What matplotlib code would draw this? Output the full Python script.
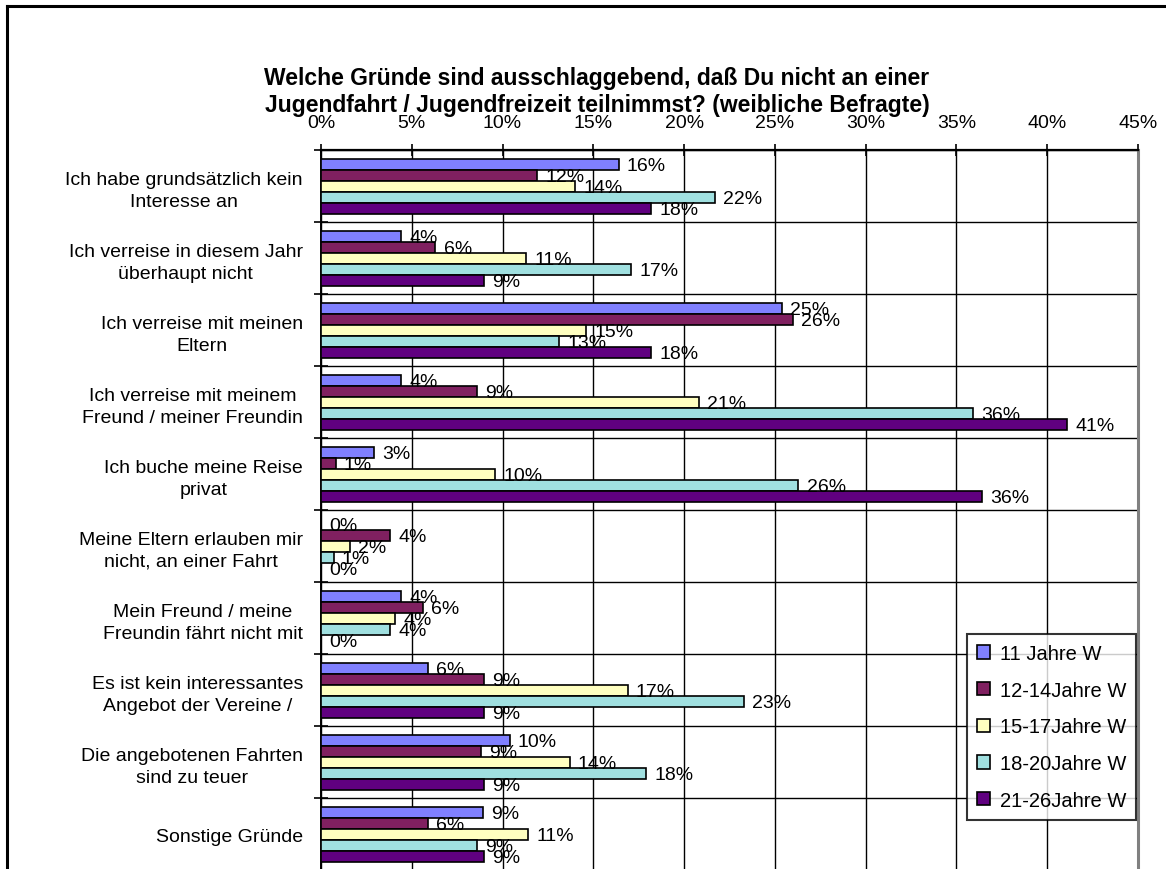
import numpy as np
import matplotlib
matplotlib.use("Agg")
import matplotlib.pyplot as plt
from matplotlib.lines import Line2D

plt.rcParams['font.family'] = ['Liberation Sans', 'DejaVu Sans']

# Gruende (Kategorien) und Anteile je Altersgruppe in %
gruende = [
    "Ich habe grundsätzlich kein\nInteresse an",
    "Ich verreise in diesem Jahr\nüberhaupt nicht",
    "Ich verreise mit meinen\nEltern",
    "Ich verreise mit meinem\nFreund / meiner Freundin",
    "Ich buche meine Reise\nprivat",
    "Meine Eltern erlauben mir\nnicht, an einer Fahrt",
    "Mein Freund / meine\nFreundin fährt nicht mit",
    "Es ist kein interessantes\nAngebot der Vereine /",
    "Die angebotenen Fahrten\nsind zu teuer",
    "Sonstige Gründe",
]
gruppen = ["11 Jahre W", "12-14Jahre W", "15-17Jahre W", "18-20Jahre W", "21-26Jahre W"]

w11 = [16.4, 4.4, 25.4, 4.4, 2.9, 0.0, 4.4, 5.9, 10.4, 8.9]
w12_14 = [11.9, 6.3, 26.0, 8.6, 0.8, 3.8, 5.6, 9.0, 8.8, 5.9]
w15_17 = [14.0, 11.3, 14.6, 20.8, 9.6, 1.6, 4.1, 16.9, 13.7, 11.4]
w18_20 = [21.7, 17.1, 13.1, 35.9, 26.3, 0.7, 3.8, 23.3, 17.9, 8.6]
w21_26 = [18.2, 9.0, 18.2, 41.1, 36.4, 0.0, 0.0, 9.0, 9.0, 9.0]

werte = [w11, w12_14, w15_17, w18_20, w21_26]
farben = ["#8080FF", "#802060", "#FFFFC0", "#A0E0E0", "#600080"]

xticks = np.arange(0, 46, 5)

fig = plt.figure(figsize=(11.66, 8.7), dpi=100)
ax = fig.add_axes([321 / 1166, -0.0012, (1138 - 321) / 1166, (871 - 151) / 870])

y = np.arange(len(gruende))
h = 0.153
for j, (serie, farbe, name) in enumerate(zip(werte, farben, gruppen)):
    pos = y + (j - 2) * h
    ax.barh(pos, serie, height=h, color=farbe, edgecolor="black",
            linewidth=1.2, label=name, zorder=3)
    for p, v in zip(pos, serie):
        ax.text(v + 0.45, p + 0.02, f"{round(v):.0f}%", va="center", ha="left",
                fontsize=14, zorder=4)

ax.set_xlim(0, 45)
ax.set_ylim(len(gruende) - 0.5, -0.5)

# x-Achse oben
ax.xaxis.tick_top()
ax.set_xticks(xticks)
ax.set_xticklabels([f"{t}%" for t in xticks], fontsize=14)
ax.tick_params(axis="x", direction="inout", length=9, width=1.2, pad=9)

# Kategorien: Trennstriche als Major-Ticks, Beschriftung als Minor-Ticks
ax.set_yticks(np.arange(-0.5, len(gruende)), minor=False)
ax.set_yticklabels([])
ax.set_yticks(y, minor=True)
ax.set_yticklabels(gruende, minor=True, fontsize=14, multialignment="center",
                   linespacing=1.35)
ax.tick_params(axis="y", which="major", direction="inout", length=10, width=1.2)
ax.tick_params(axis="y", which="minor", length=0, pad=13)

ax.grid(True, which="major", axis="both", color="black", linewidth=1.0, zorder=0)
ax.set_axisbelow(True)

ax.spines["top"].set_linewidth(1.6)
ax.spines["left"].set_linewidth(1.4)
ax.spines["right"].set_color("#808080")
ax.spines["right"].set_linewidth(2.2)
ax.spines["bottom"].set_visible(False)

leg = ax.legend(loc="upper right", bbox_to_anchor=(0.9975, 0.328), fontsize=14.5,
                frameon=True, fancybox=False, edgecolor="black",
                handlelength=0.65, handleheight=0.65, handletextpad=0.45,
                labelspacing=0.88, borderpad=0.5, borderaxespad=0)
leg.get_frame().set_linewidth(1.5)
leg.set_zorder(5)

fig.text(0.512, 1 - 92 / 870,
         "Welche Gründe sind ausschlaggebend, daß Du nicht an einer\n"
         "Jugendfahrt / Jugendfreizeit teilnimmst? (weibliche Befragte)",
         ha="center", va="center", fontsize=16.5, fontweight="bold",
         multialignment="center", linespacing=1.2)

# Rahmen um das Diagramm
fig.add_artist(Line2D([7 / 1166, 7 / 1166], [0, 1 - 7 / 870], color="black", linewidth=2.2))
fig.add_artist(Line2D([7 / 1166, 1], [1 - 7 / 870, 1 - 7 / 870], color="black", linewidth=2.2))

fig.savefig("out.png", dpi=100)
